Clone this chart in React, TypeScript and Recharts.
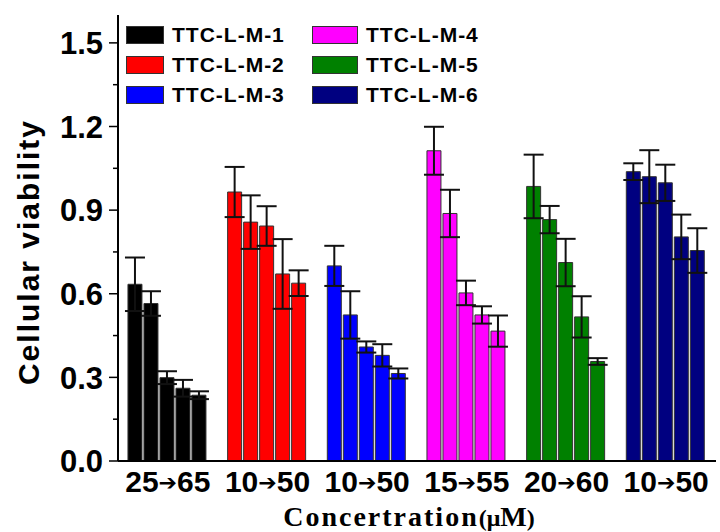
import { BarChart, Bar, Cell, ErrorBar, XAxis, YAxis, Legend } from 'recharts';

const seriesNames = ['TTC-L-M-1', 'TTC-L-M-2', 'TTC-L-M-3', 'TTC-L-M-4', 'TTC-L-M-5', 'TTC-L-M-6'];
const seriesColors = ['#000000', '#ff0000', '#0000ff', '#ff00ff', '#008000', '#000080'];
const rangeFrom = ['25', '10', '10', '15', '20', '10'];
const rangeTo = ['65', '50', '50', '55', '60', '50'];

// five concentrations per sample, low -> high
const m1 = [0.634, 0.565, 0.299, 0.261, 0.236];
const m1Err = [0.096, 0.044, 0.023, 0.03, 0.014];
const m2 = [0.965, 0.857, 0.843, 0.671, 0.638];
const m2Err = [0.09, 0.096, 0.071, 0.125, 0.046];
const m3 = [0.7, 0.524, 0.409, 0.379, 0.314];
const m3Err = [0.072, 0.085, 0.02, 0.04, 0.018];
const m4 = [1.113, 0.888, 0.603, 0.524, 0.466];
const m4Err = [0.086, 0.085, 0.044, 0.031, 0.056];
const m5 = [0.985, 0.866, 0.712, 0.517, 0.357];
const m5Err = [0.114, 0.049, 0.085, 0.074, 0.012];
const m6 = [1.038, 1.02, 0.998, 0.804, 0.755];
const m6Err = [0.03, 0.095, 0.065, 0.08, 0.08];

const yTicks = [0, 0.15, 0.3, 0.45, 0.6, 0.75, 0.9, 1.05, 1.2, 1.35, 1.5];

const values = [m1, m2, m3, m4, m5, m6];
const errors = [m1Err, m2Err, m3Err, m4Err, m5Err, m6Err];
const levels = [0, 1, 2, 3, 4];

const data = seriesNames.map((name, i) => {
  const row: Record<string, number | string> = { name };
  levels.forEach(k => {
    row['v' + k] = values[i][k];
    row['e' + k] = errors[i][k];
  });
  return row;
});

const SANS = '"Liberation Sans", Arial, sans-serif';
const SERIF = '"Liberation Serif", "Times New Roman", serif';

function YTick(props: any) {
  const { x, y, payload } = props;
  const major = Math.round(payload.value / 0.15) % 2 === 0;
  return (
    <g>
      <line x1={x - (major ? 9 : 5)} x2={x} y1={y} y2={y} stroke="#000" strokeWidth={1.5} />
      {major && (
        <text x={x - 15} y={y} dy="0.36em" textAnchor="end" fontFamily={SANS} fontSize={31} fontWeight="bold" fill="#000">
          {payload.value.toFixed(1)}
        </text>
      )}
    </g>
  );
}

function XTick(props: any) {
  const { x, y, payload } = props;
  const i = seriesNames.indexOf(payload.value);
  return (
    <text x={x} y={y + 31} textAnchor="middle" fontFamily={SANS} fontSize={30} fontWeight="bold" fill="#000">
      {rangeFrom[i]}
      <tspan fontFamily='"DejaVu Sans", sans-serif' fontWeight="normal" fontSize={22} dy={-2}>➔</tspan>
      <tspan dy={2}>{rangeTo[i]}</tspan>
    </text>
  );
}

function YTitle(props: any) {
  const { viewBox } = props;
  const cx = viewBox.x + 28;
  const cy = viewBox.y + viewBox.height / 2 + 14;
  return (
    <text x={cx} y={cy} transform={`rotate(-90 ${cx} ${cy})`} textAnchor="middle" dy="0.36em" fontFamily={SANS} fontSize={30} fontWeight="bold" letterSpacing={2} fill="#000">
      Cellular viability
    </text>
  );
}

function XTitle(props: any) {
  const { viewBox } = props;
  return (
    <text x={viewBox.x + viewBox.width / 2 - 8} y={viewBox.y + viewBox.height - 6} textAnchor="middle" fontFamily={SERIF} fontSize={28} fontWeight="bold" letterSpacing={2} fill="#000">
      Concertration
      <tspan fontSize={24} letterSpacing={0}>(μ</tspan>
      <tspan letterSpacing={0}>M</tspan>
      <tspan fontSize={24} letterSpacing={0}>)</tspan>
    </text>
  );
}

function LegendBlock() {
  return (
    <div
      style={{
        display: 'grid',
        gridTemplateRows: 'repeat(3, 30px)',
        gridAutoFlow: 'column',
        gridTemplateColumns: '186px 180px',
        fontFamily: SANS,
        fontWeight: 'bold',
        fontSize: 21,
        letterSpacing: 1,
        color: '#000',
      }}
    >
      {seriesNames.map((name, i) => (
        <div key={name} style={{ display: 'flex', alignItems: 'center', height: 30 }}>
          <span
            style={{
              display: 'inline-block',
              width: i < 3 ? 36 : 44,
              height: 16,
              background: seriesColors[i],
              border: '1px solid #333',
              marginRight: 8,
            }}
          />
          {name}
        </div>
      ))}
    </div>
  );
}

export default function App() {
  return (
    <div style={{ position: 'absolute', left: 0, top: 0, width: 720, height: 532, background: '#fff' }}>
      <BarChart
        width={720}
        height={532}
        data={data}
        margin={{ top: 15, right: 4, left: 0, bottom: 0 }}
        barCategoryGap="10%"
        barGap={2}
      >
        <XAxis
          dataKey="name"
          height={71}
          interval={0}
          tick={<XTick />}
          tickLine={false}
          tickSize={0}
          tickMargin={0}
          axisLine={{ stroke: '#000', strokeWidth: 2 }}
          label={<XTitle />}
        />
        <XAxis xAxisId="top" dataKey="name" orientation="top" height={0} tick={false} tickLine={false} axisLine={{ stroke: '#000', strokeWidth: 2 }} />
        <YAxis
          width={118}
          domain={[0, 1.6]}
          ticks={yTicks}
          interval={0}
          tick={<YTick />}
          tickLine={false}
          tickSize={0}
          tickMargin={0}
          axisLine={{ stroke: '#000', strokeWidth: 2 }}
          label={<YTitle />}
        />
        <YAxis yAxisId="right" orientation="right" width={0} domain={[0, 1.6]} tick={false} tickLine={false} axisLine={{ stroke: '#000', strokeWidth: 2 }} />
        <Legend
          layout="horizontal"
          verticalAlign="middle"
          align="center"
          content={<LegendBlock />}
          wrapperStyle={{ left: 126, top: 20, width: 380, height: 92 }}
        />
        {levels.map(k => (
          <Bar key={k} dataKey={'v' + k} stroke="#333" strokeWidth={1} isAnimationActive={false}>
            {data.map((row, i) => (
              <Cell key={i} fill={seriesColors[i]} />
            ))}
            <ErrorBar dataKey={'e' + k} width={10} stroke="#111" strokeWidth={2} isAnimationActive={false} />
          </Bar>
        ))}
      </BarChart>
    </div>
  );
}
